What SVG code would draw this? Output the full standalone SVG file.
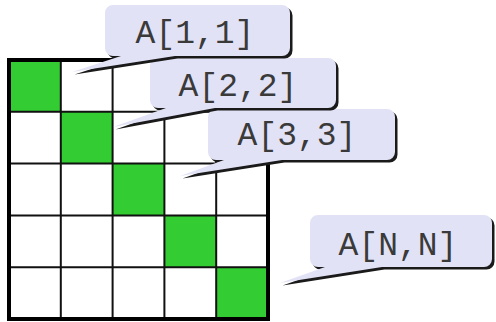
<svg xmlns="http://www.w3.org/2000/svg" width="496" height="322" viewBox="0 0 496 322">
<style>
.cell{fill:#33cc33}
.inner{stroke:#111;stroke-width:2;fill:none}
.outer{stroke:#000;stroke-width:4;fill:none}
.shadow{fill:#1a1a1a}
.bubble{fill:#e2e2f7}
.lbl{font-family:"Liberation Mono","Courier New",monospace;font-size:33px;fill:#3a3a3a;text-anchor:middle}
</style>
<rect x="0" y="0" width="496" height="322" fill="#ffffff"/>
<g id="matrix">
<rect class="cell" x="9" y="60" width="51.8" height="51.8"/>
<rect class="cell" x="60.8" y="111.8" width="51.8" height="51.8"/>
<rect class="cell" x="112.6" y="163.6" width="51.8" height="51.8"/>
<rect class="cell" x="164.4" y="215.4" width="51.8" height="51.8"/>
<rect class="cell" x="216.2" y="267.2" width="51.8" height="51.8"/>
<path class="inner" d="M60.8 60V319M112.6 60V319M164.4 60V319M216.2 60V319M9 111.8H268M9 163.6H268M9 215.4H268M9 267.2H268"/>
<rect class="outer" x="9" y="60" width="259" height="259"/>
</g>
<g id="connectors">
<g id="callout-nn">
<path class="shadow" transform="translate(2.5,2.5)" d="M318 215H484a8 8 0 0 1 8 8V259a8 8 0 0 1-8 8H382L280 283L325 267H318a8 8 0 0 1-8-8V223a8 8 0 0 1 8-8Z"/>
<path class="bubble" d="M318 215H484a8 8 0 0 1 8 8V259a8 8 0 0 1-8 8H382L280 283L325 267H318a8 8 0 0 1-8-8V223a8 8 0 0 1 8-8Z"/>
</g>
<g id="callout-33">
<path class="shadow" transform="translate(2.5,2.5)" d="M216 109H387a8 8 0 0 1 8 8V152a8 8 0 0 1-8 8H282L180 176L224 160H216a8 8 0 0 1-8-8V117a8 8 0 0 1 8-8Z"/>
<path class="bubble" d="M216 109H387a8 8 0 0 1 8 8V152a8 8 0 0 1-8 8H282L180 176L224 160H216a8 8 0 0 1-8-8V117a8 8 0 0 1 8-8Z"/>
</g>
<g id="callout-22">
<path class="shadow" transform="translate(2.5,2.5)" d="M158 58H328a8 8 0 0 1 8 8V100a8 8 0 0 1-8 8H215L113 127L166 108H158a8 8 0 0 1-8-8V66a8 8 0 0 1 8-8Z"/>
<path class="bubble" d="M158 58H328a8 8 0 0 1 8 8V100a8 8 0 0 1-8 8H215L113 127L166 108H158a8 8 0 0 1-8-8V66a8 8 0 0 1 8-8Z"/>
</g>
<g id="callout-11">
<path class="shadow" transform="translate(2.5,2.5)" d="M113 5H282a8 8 0 0 1 8 8V48a8 8 0 0 1-8 8H175L72 72L121 56H113a8 8 0 0 1-8-8V13a8 8 0 0 1 8-8Z"/>
<path class="bubble" d="M113 5H282a8 8 0 0 1 8 8V48a8 8 0 0 1-8 8H175L72 72L121 56H113a8 8 0 0 1-8-8V13a8 8 0 0 1 8-8Z"/>
</g>
</g>
<g id="label-11"><text class="lbl" x="195" y="43">A[1,1]</text></g>
<g id="label-22"><text class="lbl" x="238" y="96">A[2,2]</text></g>
<g id="label-33"><text class="lbl" x="297" y="145">A[3,3]</text></g>
<g id="label-nn"><text class="lbl" x="398" y="255">A[N,N]</text></g>
</svg>
